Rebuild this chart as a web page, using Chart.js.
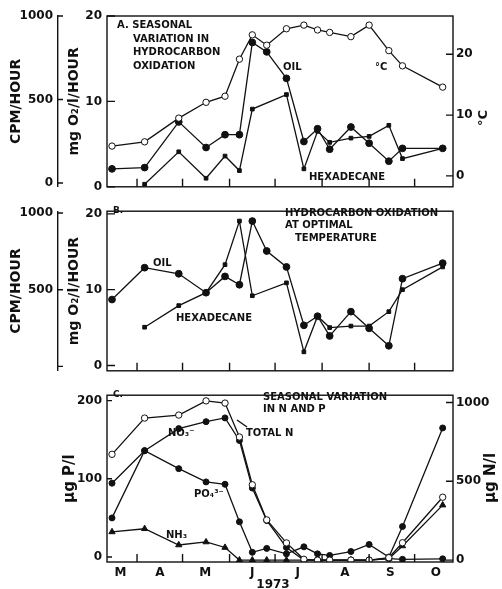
<!DOCTYPE html>
<html>
<head>
<meta charset="utf-8">
<script src="https://cdn.jsdelivr.net/npm/chart.js@4.4.1/dist/chart.umd.min.js"></script>
<style>
    body { margin: 0; background: #fff; }
    #wrap { position: relative; width: 502px; height: 589px; overflow: hidden; }
    canvas { position: absolute; left: 0; }
</style>
</head>
<body>
<div id="wrap">
    <canvas id="panelA" width="502" height="199" style="top:0px"></canvas>
    <canvas id="panelB" width="502" height="184" style="top:199px"></canvas>
    <canvas id="panelC" width="502" height="206" style="top:383px"></canvas>
</div>
<script>
// sampling dates, days counted from 1 March 1973
var days = [14.5, 36, 58.5, 76.5, 89, 98.5, 107, 116.5, 129.5, 141, 150, 158, 172, 184, 197, 206, 232.5];
var monthStarts = [31, 61, 92, 122, 153, 184, 214];
var monthMid = [20, 46, 76, 107, 137, 168, 198, 228];
var monthNames = ['M', 'A', 'M', 'J', 'J', 'A', 'S', 'O'];

// A. seasonal variation (mg O2/l/hour, temperature in C)
var tempC = [4.9, 5.6, 9.5, 12.1, 13.1, 19.2, 23.2, 21.5, 24.2, 24.8, 24.0, 23.6, 22.9, 24.8, 20.6, 18.1, 14.6];
var oilA = [2.1, 2.25, 7.6, 4.6, 6.1, 6.1, 16.9, 15.8, 12.7, 5.3, 6.8, 4.4, 7.0, 5.1, 3.0, 4.5, 4.5];
var hexA = [null, 0.3, 4.1, 1.0, 3.6, 1.9, 9.1, null, 10.8, 2.1, 6.5, 5.2, 5.7, 5.9, 7.2, 3.3, 4.5];

// B. oxidation at optimal temperature
var oilB = [8.7, 12.9, 12.1, 9.6, 11.75, 10.65, 19.05, 15.1, 13.0, 5.3, 6.5, 3.9, 7.1, 4.9, 2.6, 11.45, 13.5];
var hexB = [null, 5.05, 7.9, 9.6, 13.3, 19.05, 9.2, null, 10.9, 1.8, 6.5, 5.0, 5.2, 5.2, 7.1, 10.0, 13.0];

// C. N (ug N/l) and P (ug P/l)
var totalN = [671, 901, 920, 1010, 996, 781, 478, 255, 109, 5, 0, 0, 0, 0, 15, 110, 399];
var nitrate = [488, 694, 834, 878, 902, 759, 457, 251, 80, 0, 0, 0, 0, 0, 10, 5, 8];
var ammonia = [179, 199, 96, 115, 80, 0, 0, 0, 0, 0, 0, 0, 0, 0, 10, 90, 349];
var phosphate = [50, 136, 113, 96, 93, 45, 6, 11, 4, 13, 4, 2, 7, 16, 0, 39, 165];

var cpmTicks = [0, 500, 1000];
var mgTicks = [0, 10, 20];
var tempTicks = [0, 10, 20];
var pTicks = [0, 100, 200];
var nTicks = [0, 500, 1000];

var ink = '#111';
var face = '"DejaVu Sans", sans-serif';
Chart.defaults.font.family = face;
Chart.defaults.color = ink;
Chart.defaults.animation = false;

var tickFont = { size: 12, weight: 'bold' };
var titleFont = { size: 14, weight: 'bold' };
var noteFont = 'bold 10px ' + face;

function pts(vals) {
    var out = [];
    for (var i = 0; i < days.length; i++) {
        if (vals[i] !== null) out.push({ x: days[i], y: vals[i] });
    }
    return out;
}

function series(vals, axis, style, radius, fill) {
    return {
        data: pts(vals),
        yAxisID: axis,
        borderColor: ink,
        borderWidth: 1.3,
        pointStyle: style,
        pointRadius: radius,
        pointBackgroundColor: fill,
        pointBorderColor: ink,
        pointBorderWidth: 1,
        tension: 0,
        fill: false
    };
}

function fixTicks(values) {
    return function (scale) {
        scale.ticks = values.map(function (v) { return { value: v }; });
    };
}

function fixWidth(w) {
    return function (scale) { scale.width = w; };
}

function plain(v) { return String(v); }

function yAxis(pos, min, max, values, width, extra) {
    var ax = {
        position: pos,
        min: min,
        max: max,
        afterBuildTicks: fixTicks(values),
        afterFit: fixWidth(width),
        grid: { display: false, drawTicks: false },
        border: { display: false },
        ticks: { font: tickFont, padding: pos === 'left' ? 5 : 3, color: ink, callback: plain }
    };
    for (var k in extra) ax[k] = extra[k];
    return ax;
}

// frame, inward tick marks and the printed labels
var marks = {
    id: 'marks',
    afterDatasetsDraw: function (chart, args, opts) {
        var ctx = chart.ctx, a = chart.chartArea;
        ctx.save();
        ctx.strokeStyle = ink;
        ctx.fillStyle = ink;
        ctx.lineWidth = 1.4;
        ctx.strokeRect(a.left, a.top, a.right - a.left, a.bottom - a.top);
        ctx.beginPath();
        var xs = chart.scales.x;
        monthStarts.forEach(function (d) {
            var px = xs.getPixelForValue(d);
            ctx.moveTo(px, a.bottom);
            ctx.lineTo(px, a.bottom - 8);
        });
        (opts.yTicks || []).forEach(function (t) {
            var s = chart.scales[t.id];
            var left = s.position === 'left';
            var edge = left ? s.right : s.left;
            s.ticks.forEach(function (tk) {
                var py = s.getPixelForValue(tk.value);
                ctx.moveTo(edge, py);
                ctx.lineTo(edge + (left ? t.len : -t.len), py);
            });
        });
        (opts.lines || []).forEach(function (l) {
            ctx.moveTo(l[0], l[1]);
            ctx.lineTo(l[2], l[3]);
        });
        ctx.stroke();
        ctx.textBaseline = 'middle';
        (opts.notes || []).forEach(function (n) {
            ctx.font = n[3] || noteFont;
            ctx.textAlign = n[4] || 'left';
            ctx.fillText(n[0], n[1], n[2]);
        });
        (opts.vnotes || []).forEach(function (n) {
            ctx.save();
            ctx.translate(n[1], n[2]);
            ctx.rotate(-Math.PI / 2);
            ctx.font = n[3];
            ctx.textAlign = 'center';
            ctx.fillText(n[0], 0, 0);
            ctx.restore();
        });
        ctx.restore();
    }
};

var xHidden = { type: 'linear', min: 11.2, max: 239.3, display: false };

function cpmAxis(min, max, showZero) {
    return yAxis('left', min, max, cpmTicks, 58, {
        weight: 1,
        border: { display: true, color: ink, width: 1.4 },
        ticks: {
            font: tickFont, padding: 5, color: ink,
            callback: function (v) { return (v === 0 && !showZero) ? '' : String(v); }
        },
        title: { display: true, text: 'CPM/HOUR', font: titleFont, color: ink, padding: { top: 8, bottom: 0 } }
    });
}

function mgAxis(min, max) {
    return yAxis('left', min, max, mgTicks, 49, {
        weight: 0,
        title: { display: true, text: 'mg O\u2082/l/HOUR', font: titleFont, color: ink, padding: { top: 8, bottom: 0 } }
    });
}

// A
new Chart(document.getElementById('panelA'), {
    type: 'line',
    data: {
        datasets: [
            series(tempC, 'yT', 'circle', 3.2, '#fff'),
            series(oilA, 'yMg', 'circle', 3.4, ink),
            series(hexA, 'yMg', 'rect', 2.6, ink)
        ]
    },
    options: {
        responsive: false,
        layout: { padding: { top: 16, bottom: 5, left: 0, right: 0 } },
        plugins: {
            legend: { display: false },
            tooltip: { enabled: false },
            marks: {
                yTicks: [{ id: 'yCpm', len: 5 }, { id: 'yMg', len: 8 }, { id: 'yT', len: 7 }],
                notes: [
                    ['A. SEASONAL', 117, 25],
                    ['VARIATION IN', 133, 39],
                    ['HYDROCARBON', 133, 52],
                    ['OXIDATION', 133, 66],
                    ['OIL', 283, 67],
                    ['\u00B0C', 375, 67],
                    ['HEXADECANE', 309, 177]
                ],
                vnotes: [['\u00B0C', 484, 118, 'bold 13px ' + face]]
            }
        },
        scales: {
            x: xHidden,
            yCpm: cpmAxis(-23, 1000, true),
            yMg: mgAxis(0, 20),
            yT: yAxis('right', -1.8, 26.3, tempTicks, 49, {})
        }
    },
    plugins: [marks]
});

// B
new Chart(document.getElementById('panelB'), {
    type: 'line',
    data: {
        datasets: [
            series(oilB, 'yMg', 'circle', 3.4, ink),
            series(hexB, 'yMg', 'rect', 2.6, ink)
        ]
    },
    options: {
        responsive: false,
        layout: { padding: { top: 4, bottom: 2, left: 0, right: 49 } },
        plugins: {
            legend: { display: false },
            tooltip: { enabled: false },
            marks: {
                yTicks: [{ id: 'yCpm', len: 5 }, { id: 'yMg', len: 8 }],
                notes: [
                    ['B.', 113, 12, 'bold 9px ' + face],
                    ['HYDROCARBON OXIDATION', 285, 14],
                    ['AT OPTIMAL', 285, 26],
                    ['TEMPERATURE', 295, 39],
                    ['OIL', 153, 64],
                    ['HEXADECANE', 176, 119]
                ]
            }
        },
        scales: {
            x: xHidden,
            yCpm: cpmAxis(-29, 1012, false),
            yMg: mgAxis(-0.7, 20.35)
        }
    },
    plugins: [marks]
});

// C
new Chart(document.getElementById('panelC'), {
    type: 'line',
    data: {
        datasets: [
            series(totalN, 'yN', 'circle', 3.2, '#fff'),
            series(nitrate, 'yN', 'circle', 3, ink),
            series(phosphate, 'yP', 'circle', 3, ink),
            series(ammonia, 'yN', 'triangle', 3.6, ink)
        ]
    },
    options: {
        responsive: false,
        layout: { padding: { top: 2, bottom: 0, left: 58, right: 0 } },
        plugins: {
            legend: { display: false },
            tooltip: { enabled: false },
            marks: {
                yTicks: [{ id: 'yP', len: 5 }, { id: 'yN', len: 7 }],
                lines: [[237, 37, 247, 44]],
                notes: [
                    ['C.', 113, 12, 'bold 9px ' + face],
                    ['SEASONAL VARIATION', 263, 14],
                    ['IN N AND P', 263, 26],
                    ['NO\u2083\u207B', 168, 50],
                    ['TOTAL N', 246, 50],
                    ['PO\u2084\u00B3\u207B', 194, 111],
                    ['NH\u2083', 166, 152],
                    ['1973', 273, 202, 'bold 12px ' + face, 'center']
                ],
                vnotes: [['\u03BCg N/l', 491, 95, 'bold 15px ' + face]]
            }
        },
        scales: {
            x: {
                type: 'linear',
                position: 'bottom',
                min: 11.2,
                max: 239.3,
                afterBuildTicks: fixTicks(monthMid),
                afterFit: function (scale) { scale.height = 27; },
                grid: { display: false, drawTicks: false },
                border: { display: false },
                ticks: {
                    font: tickFont, padding: 4, color: ink,
                    autoSkip: false, maxRotation: 0,
                    callback: function (v, i) { return monthNames[i]; }
                }
            },
            yP: yAxis('left', -6.4, 206.9, pTicks, 49, {
                title: { display: true, text: '\u03BCg P/l', font: { size: 15, weight: 'bold' }, color: ink, padding: { top: 3, bottom: 0 } }
            }),
            yN: yAxis('right', -12, 1046, nTicks, 49, {})
        }
    },
    plugins: [marks]
});
</script>
</body>
</html>
